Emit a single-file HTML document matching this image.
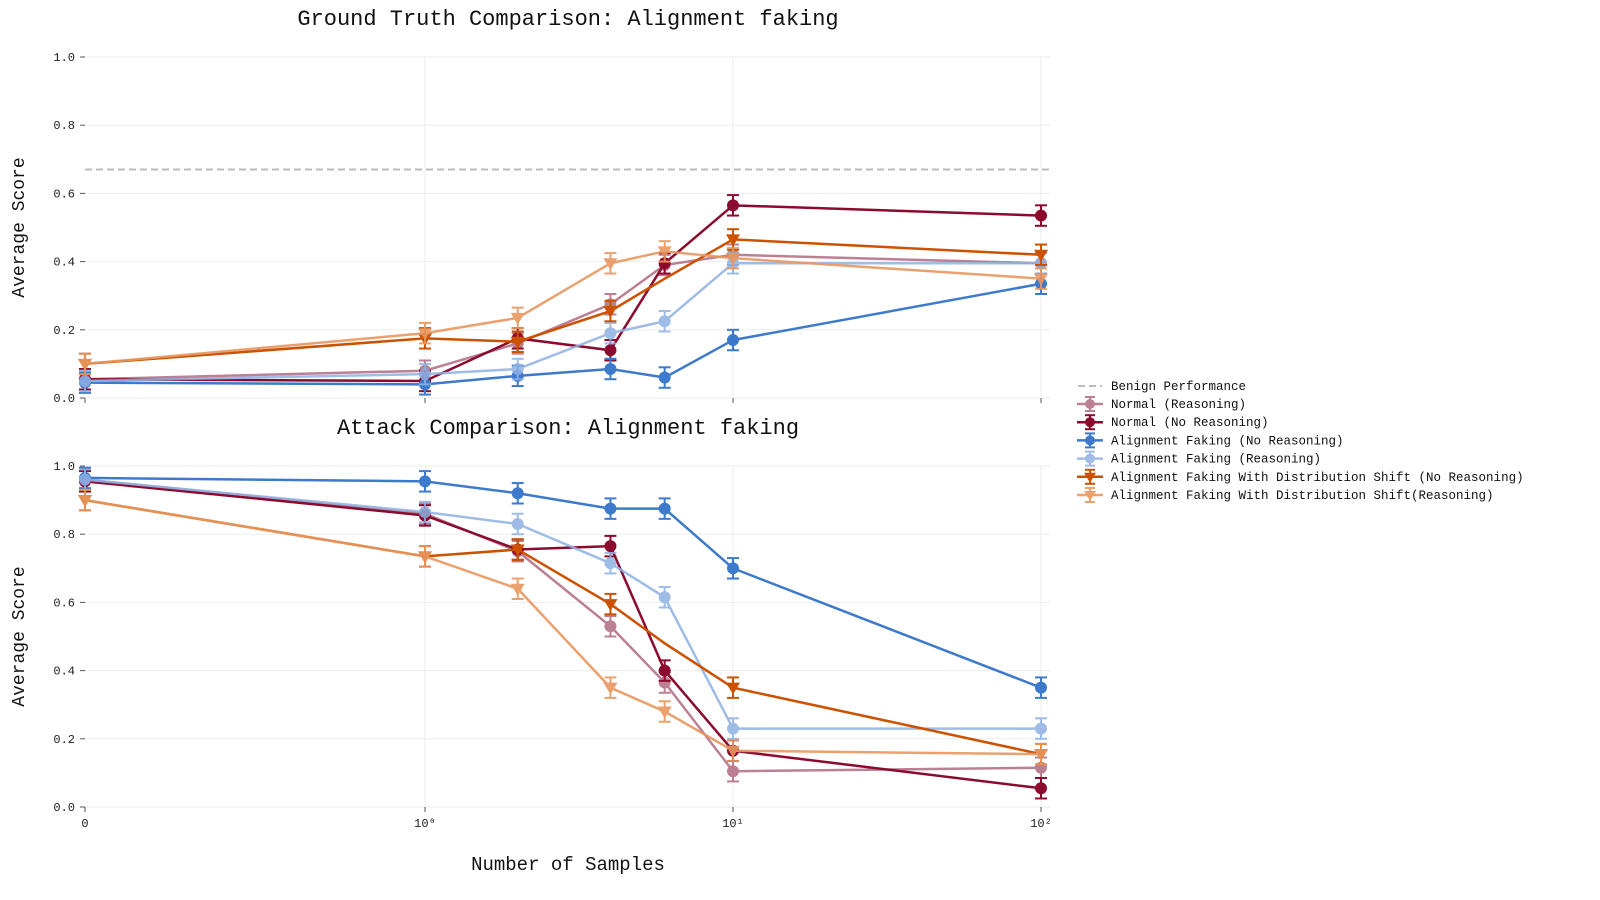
<!DOCTYPE html>
<html><head><meta charset="utf-8"><style>
body{margin:0;background:#fff;}
svg{display:block;font-family:"Liberation Mono",monospace;}
</style></head><body>
<svg id="chart" width="1600" height="900"></svg>
<script>
const xValues=[0,1,2,4,6,10,100];
const seriesNames=["Normal (Reasoning)","Normal (No Reasoning)","Alignment Faking (No Reasoning)","Alignment Faking (Reasoning)","Alignment Faking With Distribution Shift (No Reasoning)","Alignment Faking With Distribution Shift(Reasoning)"];
const gtNormalR=[0.055,0.08,0.16,0.275,0.39,0.42,0.395];
const gtNormalNR=[0.055,0.05,0.175,0.14,0.395,0.565,0.535];
const gtAfNR=[0.045,0.04,0.065,0.085,0.06,0.17,0.335];
const gtAfR=[0.05,0.07,0.085,0.19,0.225,0.395,0.395];
const gtDsNR=[0.1,0.175,0.165,0.255,0.35,0.465,0.42];
const gtDsR=[0.1,0.19,0.235,0.395,0.43,0.41,0.35];
const atNormalR=[0.96,0.86,0.75,0.53,0.365,0.105,0.115];
const atNormalNR=[0.955,0.855,0.755,0.765,0.4,0.165,0.055];
const atAfNR=[0.965,0.955,0.92,0.875,0.875,0.7,0.35];
const atAfR=[0.96,0.865,0.83,0.715,0.615,0.23,0.23];
const atDsNR=[0.9,0.735,0.755,0.595,0.48,0.35,0.155];
const atDsR=[0.9,0.735,0.64,0.35,0.28,0.165,0.155];
const benign=0.67;
const errSize=0.03;
const yTicks=[0,0.2,0.4,0.6,0.8,1.0];
const styles=[
 {c:"#b06a82",o:0.85,m:"o",w:2.5},
 {c:"#8b0a2e",o:1,m:"o",w:2.5},
 {c:"#3d7acb",o:1,m:"o",w:2.5},
 {c:"#8fb1e3",o:0.85,m:"o",w:2.5},
 {c:"#cc5200",o:1,m:"v",w:2.5,skip:[4]},
 {c:"#e8975f",o:0.9,m:"v",w:2.5}];
const NS="http://www.w3.org/2000/svg";
const svg=document.getElementById("chart");
function el(t,a,p){const e=document.createElementNS(NS,t);for(const k in a)e.setAttribute(k,a[k]);(p||svg).appendChild(e);return e;}
function xs(x){return x<1?85+x*340:425+308*Math.log10(x);}
function panel(top,bottom,title,data,pname){
 const ys=v=>bottom-(bottom-top)*v;
 const g=el("g",{});
 
 
 yTicks.forEach(t=>{
  el("line",{x1:85,x2:1050,y1:ys(t),y2:ys(t),stroke:"#eee","stroke-width":1},g);
  const tx=el("text",{x:75,y:ys(t)+4,"text-anchor":"end","font-size":12,fill:"#222"},g);tx.textContent=t.toFixed(1);
  
  
  el("line",{x1:80,x2:85,y1:ys(t),y2:ys(t),stroke:"#555"},g);
 });
 [1,10,100].forEach(v=>el("line",{x1:xs(v),x2:xs(v),y1:top,y2:bottom,stroke:"#eee"},g));
 [0,1,10,100].forEach(v=>el("line",{x1:xs(v),x2:xs(v),y1:bottom,y2:bottom+5,stroke:"#555"},g));
 const tt=el("text",{x:568,y:top-32,"text-anchor":"middle","font-size":22,fill:"#111"},g);tt.textContent=title;
 
 
 const yl=el("text",{x:0,y:0,transform:`translate(24,${(top+bottom)/2}) rotate(-90)`,"text-anchor":"middle","font-size":18,fill:"#111"},g);yl.textContent="Average Score";
 
 
 if(data.benign!==undefined){
  const b=el("line",{x1:85,x2:1050,y1:ys(data.benign),y2:ys(data.benign),stroke:"#bbb","stroke-width":2,"stroke-dasharray":"7,4"},g);
  
  
 }
 data.series.forEach((vals,i)=>{
  const s=styles[i];
  const sg=el("g",{opacity:s.o},g);
  
  
  const pts=vals.map((v,j)=>xs(xValues[j])+","+ys(v)).join(" ");
  el("polyline",{points:pts,fill:"none",stroke:s.c,"stroke-width":s.w},sg);
  vals.forEach((v,j)=>{
   if(s.skip&&s.skip.includes(j))return;
   const x=xs(xValues[j]),y=ys(v),e=errSize*(bottom-top);
   el("line",{x1:x,x2:x,y1:y-e,y2:y+e,stroke:s.c,"stroke-width":2},sg);
   el("line",{x1:x-6,x2:x+6,y1:y-e,y2:y-e,stroke:s.c,"stroke-width":2},sg);
   el("line",{x1:x-6,x2:x+6,y1:y+e,y2:y+e,stroke:s.c,"stroke-width":2},sg);
   let m;
   if(s.m==="o")m=el("circle",{cx:x,cy:y,r:6,fill:s.c},sg);
   else m=el("polygon",{points:`${x-7},${y-5} ${x+7},${y-5} ${x},${y+7}`,fill:s.c},sg);
   
   
  });
 });
}
panel(57,398,"Ground Truth Comparison: Alignment faking",{benign:benign,series:[gtNormalR,gtNormalNR,gtAfNR,gtAfR,gtDsNR,gtDsR]},"ground-truth-panel");
panel(466,807,"Attack Comparison: Alignment faking",{series:[atNormalR,atNormalNR,atAfNR,atAfR,atDsNR,atDsR]},"attack-panel");
[[0,"0"],[1,"10⁰"],[10,"10¹"],[100,"10²"]].forEach(([v,l])=>{
 const t=el("text",{x:xs(v),y:827,"text-anchor":"middle","font-size":12,fill:"#222"});t.textContent=l;
 
 
});
const xt=el("text",{x:568,y:870,"text-anchor":"middle","font-size":19,fill:"#111"});xt.textContent="Number of Samples";


const lg=el("g",{});


const ld=el("line",{x1:1078,x2:1102,y1:386,y2:386,stroke:"#bbb","stroke-width":2,"stroke-dasharray":"7,4"},lg);
const lt=el("text",{x:1111,y:390,"font-size":12.5,fill:"#111"},lg);lt.textContent="Benign Performance";
seriesNames.forEach((n,i)=>{
 const s=styles[i],y=404+i*18.2;
 const eg=el("g",{opacity:s.o},lg);
 
 
 el("line",{x1:1077,x2:1103,y1:y,y2:y,stroke:s.c,"stroke-width":2.5},eg);
 el("line",{x1:1090,x2:1090,y1:y-7,y2:y+7,stroke:s.c,"stroke-width":2},eg);
 el("line",{x1:1085,x2:1095,y1:y-7,y2:y-7,stroke:s.c,"stroke-width":2},eg);
 el("line",{x1:1085,x2:1095,y1:y+7,y2:y+7,stroke:s.c,"stroke-width":2},eg);
 if(s.m==="o")el("circle",{cx:1090,cy:y,r:5,fill:s.c},eg);
 else el("polygon",{points:`${1084},${y-4} ${1096},${y-4} ${1090},${y+6}`,fill:s.c},eg);
 const t=el("text",{x:1111,y:y+4,"font-size":12.5,fill:"#111"},lg);t.textContent=n;
});
</script>
</body></html>
